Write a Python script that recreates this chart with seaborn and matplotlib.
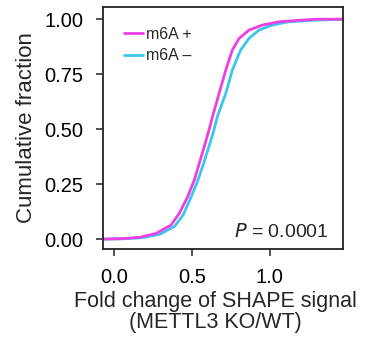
import matplotlib
matplotlib.use("Agg")
import matplotlib.pyplot as plt
import seaborn as sns
import pandas as pd

# cumulative curves (fold change, cumulative fraction)
pos_x = [-0.07, 0.05, 0.166, 0.272, 0.367, 0.42, 0.473, 0.516, 0.548, 0.58, 0.61, 0.633,
         0.675, 0.718, 0.76, 0.803, 0.866, 0.951, 1.057, 1.185, 1.30, 1.47]
pos_y = [0.0, 0.002, 0.008, 0.026, 0.064, 0.117, 0.192, 0.268, 0.344, 0.42, 0.495, 0.556,
         0.662, 0.768, 0.859, 0.912, 0.95, 0.973, 0.988, 0.995, 1.0, 1.0]
neg_x = [-0.07, 0.05, 0.18, 0.295, 0.39, 0.445, 0.495, 0.54, 0.576, 0.61, 0.642, 0.664,
         0.718, 0.76, 0.813, 0.866, 0.93, 1.015, 1.12, 1.27, 1.47]
neg_y = [0.0, 0.001, 0.006, 0.022, 0.058, 0.11, 0.19, 0.268, 0.344, 0.42, 0.495, 0.556,
         0.662, 0.768, 0.859, 0.912, 0.95, 0.973, 0.988, 0.995, 1.0]
labels = ["m6A +", "m6A \u2013"]
colors = ["#EE3FE3", "#3CC6EE"]

sns.set_style("ticks")
plt.rcParams["font.family"] = ["Liberation Sans", "DejaVu Sans"]

fig = plt.figure(figsize=(3.7, 3.39), dpi=100)
ax = fig.add_axes([0.278, 0.2655, 0.649, 0.7135])

df_neg = pd.DataFrame({"x": neg_x, "y": neg_y})
df_pos = pd.DataFrame({"x": pos_x, "y": pos_y})
sns.lineplot(data=df_neg, x="x", y="y", color=colors[1], lw=2, ax=ax, sort=False, label=labels[1])
sns.lineplot(data=df_pos, x="x", y="y", color=colors[0], lw=2, ax=ax, sort=False, label=labels[0])

ax.set_xlim(-0.07, 1.47)
ax.set_ylim(-0.045, 1.055)
ax.set_xticks([0.0, 0.5, 1.0])
ax.set_xticklabels(["0.0", "0.5", "1.0"])
ax.set_yticks([0.0, 0.25, 0.5, 0.75, 1.0])
ax.set_yticklabels(["0.00", "0.25", "0.50", "0.75", "1.00"])
ax.tick_params(axis="both", labelsize=14.5, length=5, width=1.1, colors="#222222", labelcolor="black")
ax.tick_params(axis="y", pad=9)
ax.tick_params(axis="x", pad=9)
for s in ax.spines.values():
    s.set_linewidth(1.3)
    s.set_color("#222222")

ax.set_xlabel("Fold change of SHAPE signal\n(METTL3 KO/WT)", fontsize=15.5, linespacing=1.05)
ax.xaxis.set_label_coords(0.47, -0.172)
ax.set_ylabel("Cumulative fraction", fontsize=16, labelpad=5)

h, l = ax.get_legend_handles_labels()
ax.legend(h[::-1], l[::-1], loc="upper left", frameon=False, fontsize=11.5,
          handlelength=1.2, handletextpad=0.2, labelspacing=0.4,
          borderaxespad=0.0, bbox_to_anchor=(0.06, 0.945))

ax.text(0.94, 0.035, "$P$ = 0.0001", transform=ax.transAxes, ha="right", va="bottom", fontsize=14)

fig.savefig("out.png", dpi=100)
